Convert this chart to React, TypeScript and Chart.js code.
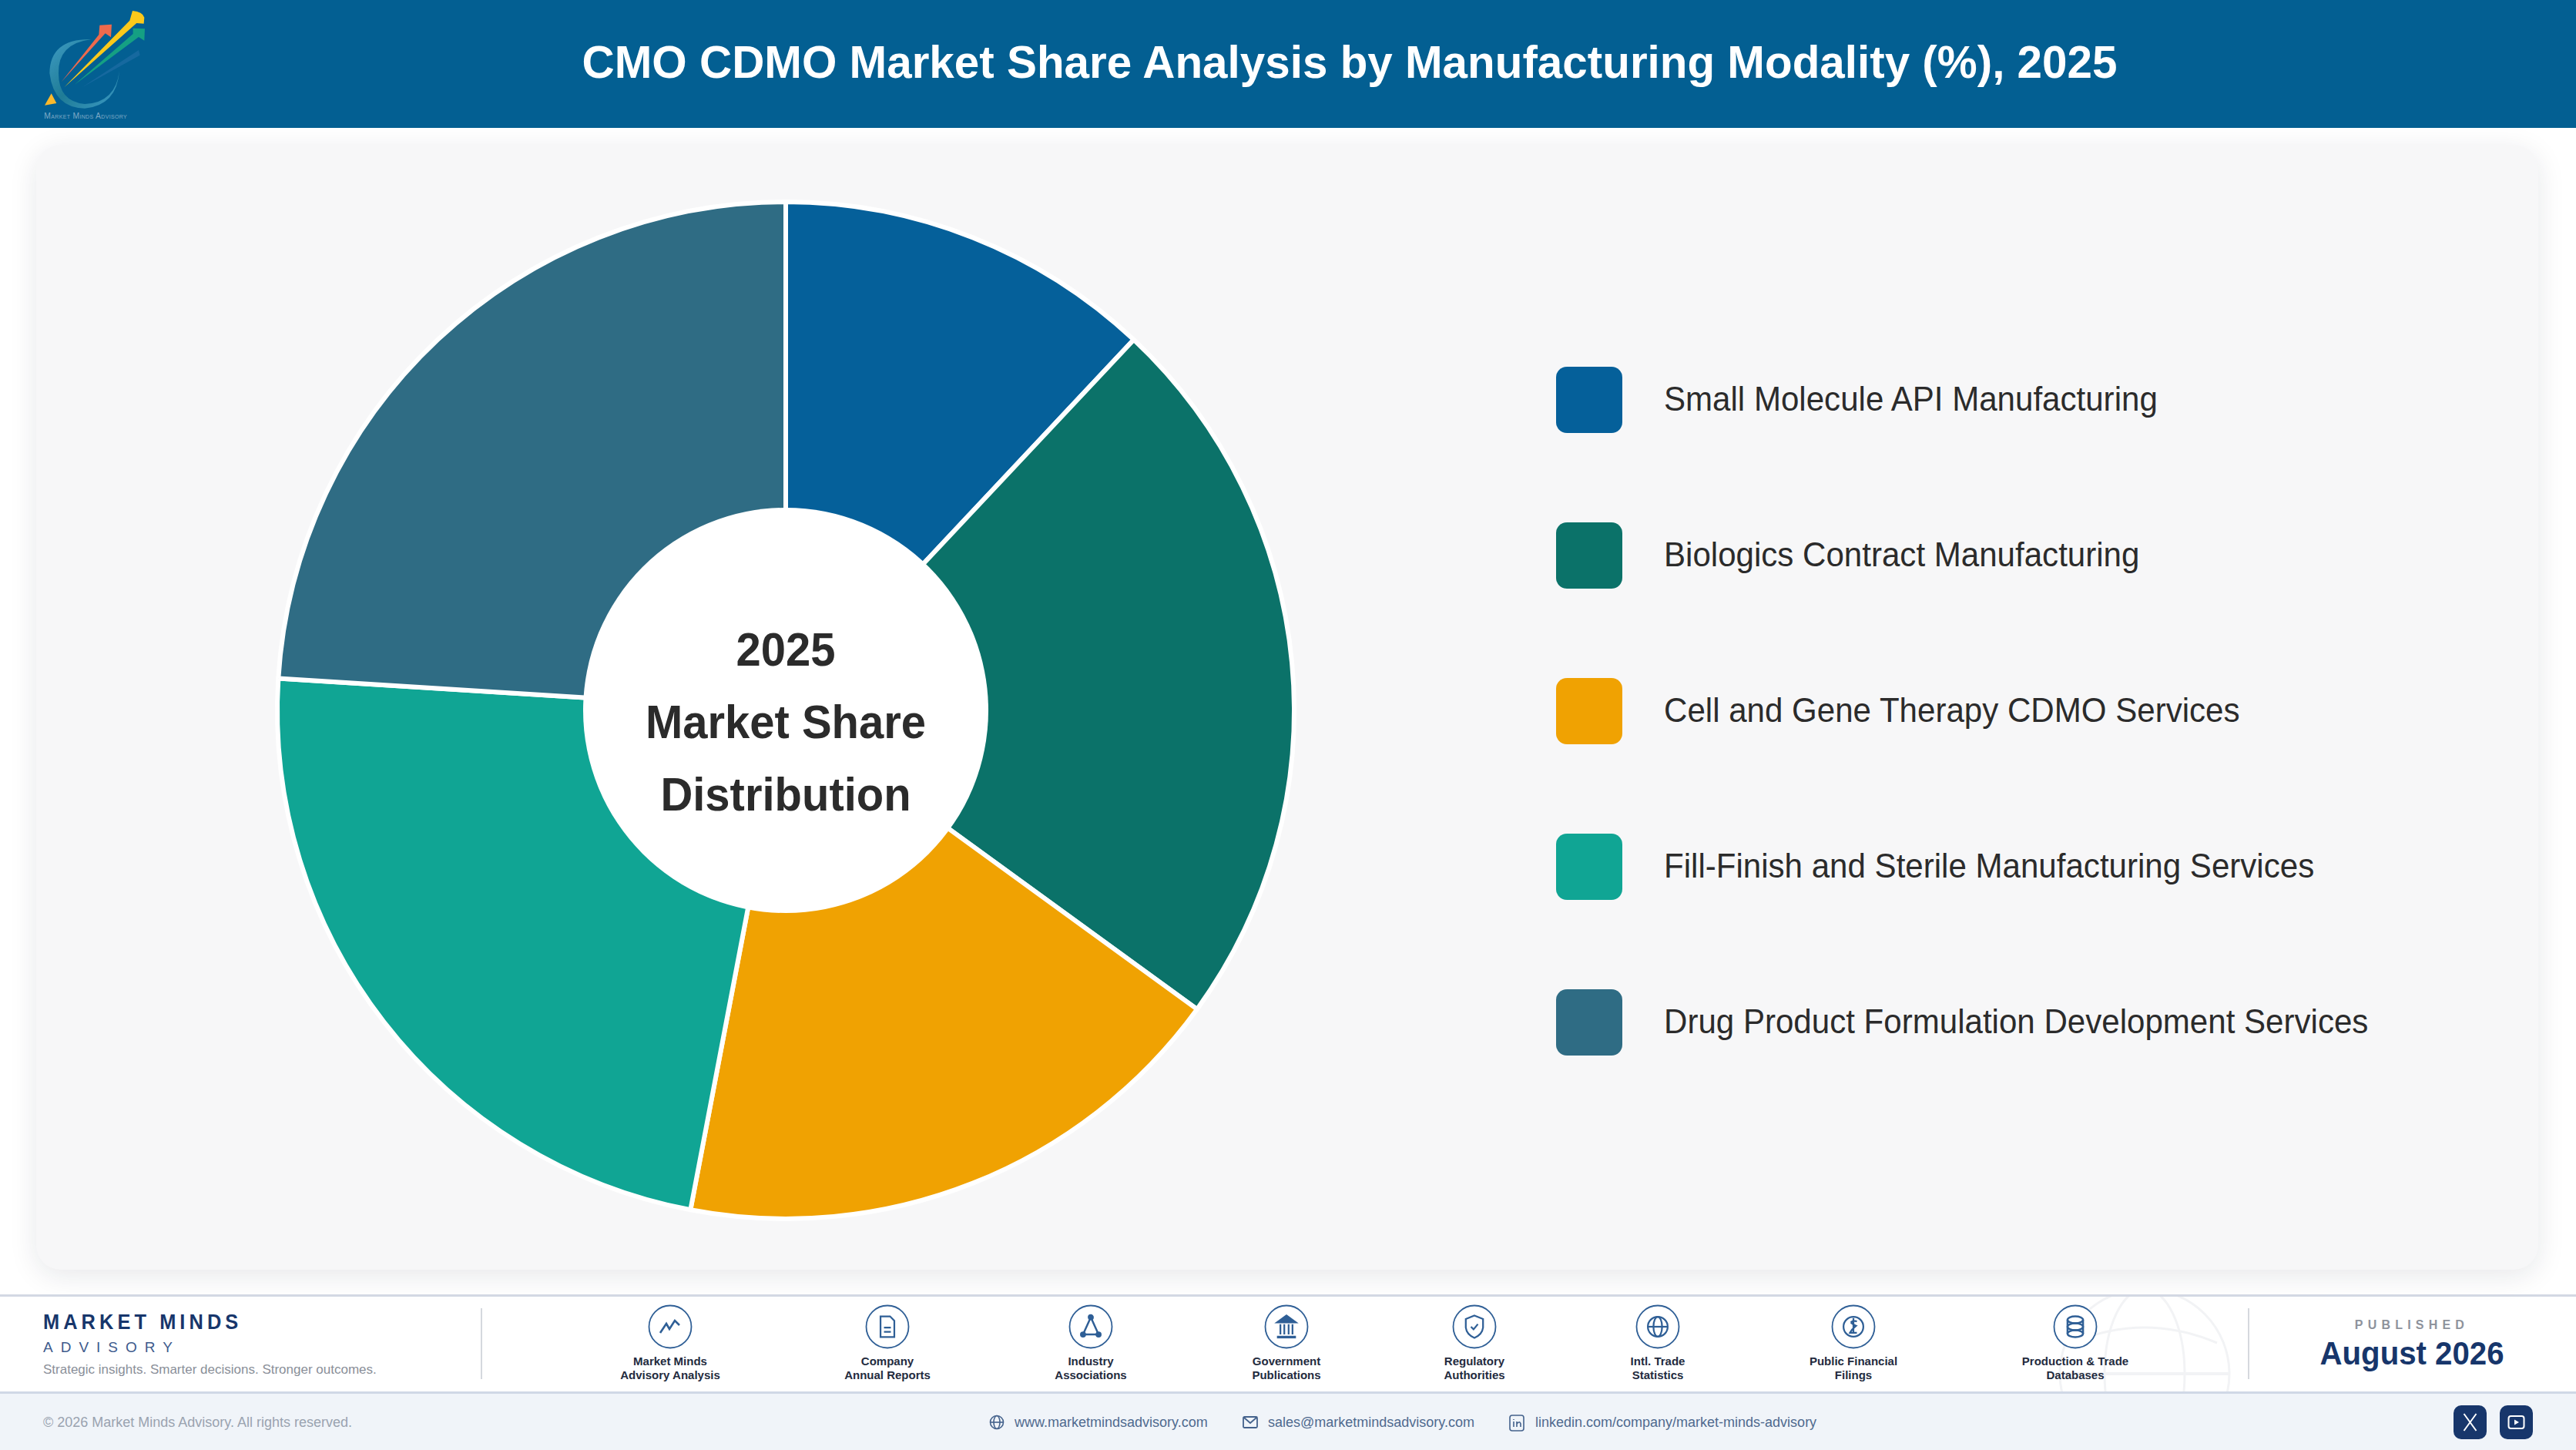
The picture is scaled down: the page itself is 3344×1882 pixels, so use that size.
import { useEffect, useRef } from 'react';
import Chart from 'chart.js/auto';
import type { CSSProperties, ReactNode } from 'react';

const title = 'CMO CDMO Market Share Analysis by Manufacturing Modality (%), 2025';
const categories = [
  'Small Molecule API Manufacturing',
  'Biologics Contract Manufacturing',
  'Cell and Gene Therapy CDMO Services',
  'Fill-Finish and Sterile Manufacturing Services',
  'Drug Product Formulation Development Services',
];
const shares = [12, 23, 18, 23, 24];
const colors = ['#05609A', '#0B7269', '#F0A202', '#10A594', '#2F6C84'];
const centerLines = ['2025', 'Market Share', 'Distribution'];

const sourceLabels = [
  ['Market Minds', 'Advisory Analysis'],
  ['Company', 'Annual Reports'],
  ['Industry', 'Associations'],
  ['Government', 'Publications'],
  ['Regulatory', 'Authorities'],
  ['Intl. Trade', 'Statistics'],
  ['Public Financial', 'Filings'],
  ['Production & Trade', 'Databases'],
];
const sourceX = [870, 1152, 1416, 1670, 1914, 2152, 2406, 2694];

const FONT = '"Liberation Sans", Arial, sans-serif';
const NAVY = '#17366B';
const ICON = '#2F5F96';

const abs = (left: number, top: number, extra: CSSProperties = {}): CSSProperties => ({
  position: 'absolute',
  left,
  top,
  ...extra,
});

// one-line text centred vertically on y; sx squeezes it to the reference's narrower glyphs
function Text({ x, y, size, color, bold, spacing, center, sx = 1, children }: {
  x: number; y: number; size: number; color: string; bold?: boolean; spacing?: number; center?: boolean; sx?: number; children: ReactNode;
}) {
  return (
    <div
      style={abs(x, y - size, {
        height: size * 2,
        lineHeight: `${size * 2}px`,
        fontSize: size,
        fontWeight: bold ? 700 : 400,
        color,
        letterSpacing: spacing,
        whiteSpace: 'nowrap',
        transformOrigin: center ? '0 50%' : 'left center',
        transform: center ? `scaleX(${sx}) translateX(-50%)` : `scaleX(${sx})`,
      })}
    >
      {children}
    </div>
  );
}

function Logo() {
  return (
    <svg style={abs(0, 0)} width={400} height={166} viewBox="0 0 1200 498">
      <defs>
        <linearGradient id="ring" x1="0" y1="0" x2="1" y2="1">
          <stop offset="0" stopColor="#3F9CC4" />
          <stop offset="0.5" stopColor="#1F7C96" />
          <stop offset="1" stopColor="#3C9AC6" />
        </linearGradient>
      </defs>
      <path d="M355 153 Q195 150 193 285 Q210 420 330 422 Q455 410 465 275 Q450 400 330 405 Q228 395 228 285 Q225 170 355 153 Z" fill="url(#ring)" />
      <path d="M320 340 L540 195 L545 215 Z" fill="#16699F" />
      <path d="M238 320 L385 135 L388 98 L435 95 L432 145 L410 130 Z" fill="#EE6A4D" />
      <path d="M290 330 L518 132 L518 110 L564 112 L562 158 L540 144 Z" fill="#15A083" />
      <path d="M250 340 L505 80 L516 42 Q555 45 562 68 L560 92 L532 90 Z" fill="#FBC91A" />
      <path d="M174 410 L200 364 L220 402 Z" fill="#FBB92C" />
      <text x="172" y="462" fontSize="31" letterSpacing="1" fill="#7FAAC6" style={{ fontVariant: 'small-caps' }}>Market Minds Advisory</text>
    </svg>
  );
}

const glyphs: ReactNode[] = [
  <path d="M-13 8 L-5 -4 L-1 3 L6 -8 L12 -2" fill="none" strokeWidth="2.6" />,
  <g fill="none" strokeWidth="2" transform="scale(1.12)"><path d="M-8 -12 H3 L8 -7 V12 H-8 Z M-4 1 H4 M-4 6 H4" /></g>,
  <g strokeWidth="2.2" fill={ICON} transform="scale(1.12)"><path d="M0 -11 L-9 9 H9 Z" fill="none" /><circle cx="0" cy="-11" r="2.4" /><circle cx="-9" cy="9" r="2.4" /><circle cx="9" cy="9" r="2.4" /></g>,
  <g strokeWidth="2" fill={ICON} transform="scale(1.12)"><path d="M-11 -5 L0 -13 L11 -5 Z" /><path d="M-7 -3 V9 M-2.5 -3 V9 M2.5 -3 V9 M7 -3 V9" fill="none" /><path d="M-11 12 H11" strokeWidth="3" /></g>,
  <g fill="none" strokeWidth="2" transform="scale(1.12)"><path d="M0 -13 L10 -9 V1 Q9 9 0 13 Q-9 9 -10 1 V-9 Z" /><path d="M-4 0 L-1 3 L4 -3" /></g>,
  <g fill="none" strokeWidth="2" transform="scale(1.12)"><circle r="11.5" /><ellipse rx="5" ry="11.5" /><path d="M-11.5 0 H11.5" /></g>,
  <g fill="none" strokeWidth="2" transform="scale(1.12)"><circle r="11.5" /><path d="M4 -6 Q0 -8 -3 -5 M-3 -5 Q0 -2 3 -1 Q-2 3 -4 7 H4 M0 -10 V7" /></g>,
  <g fill="none" strokeWidth="2.2" transform="scale(1.12)"><ellipse cy="-8" rx="9" ry="4" /><ellipse rx="9" ry="4" /><ellipse cy="8" rx="9" ry="4" /><path d="M-9 -8 V8 M9 -8 V8" /></g>,
];

function SourceIcon({ x, index }: { x: number; index: number }) {
  return (
    <svg style={abs(x - 30, 1692)} width={60} height={60} viewBox="-30 -30 60 60" stroke={ICON}>
      <circle r="27.5" fill="#fff" strokeWidth="1.8" />
      {glyphs[index]}
    </svg>
  );
}

function PieChart() {
  const canvasRef = useRef<HTMLCanvasElement>(null);

  useEffect(() => {
    const canvas = canvasRef.current;
    if (!canvas) return;
    const chart = new Chart(canvas, {
      type: 'doughnut',
      data: {
        labels: categories,
        datasets: [{ data: shares, backgroundColor: colors, borderColor: '#FFFFFF', borderWidth: 6 }],
      },
      options: {
        animation: false,
        responsive: false,
        devicePixelRatio: 1,
        radius: 660,
        cutout: 255,
        layout: { padding: 0 },
        plugins: { legend: { display: false }, tooltip: { enabled: false } },
      },
    });
    return () => chart.destroy();
  }, []);

  return <canvas ref={canvasRef} width={1400} height={1400} style={abs(320, 222, { width: 1400, height: 1400 })} />;
}

export default function App() {
  useEffect(() => {
    document.body.style.margin = '0';
    document.body.style.background = '#fff';
  }, []);

  return (
    <div style={{ position: 'relative', width: 3344, height: 1882, overflow: 'hidden', fontFamily: FONT, background: '#fff' }}>
      <div style={abs(0, 0, { width: 3344, height: 166, background: '#035F92' })} />
      <Logo />
      <Text x={1752} y={81} size={60} color="#fff" bold center sx={0.973}>{title}</Text>

      <div style={abs(47, 188, { width: 3248, height: 1460, borderRadius: 32, background: '#F7F7F8', boxShadow: '0 8px 36px rgba(20,30,50,0.10)' })} />
      <PieChart />
      <div style={abs(757, 659, { width: 526, height: 526, borderRadius: '50%', background: '#fff' })} />
      {centerLines.map((line, i) => (
        <Text key={line} x={1020} y={843 + i * 94} size={62} color="#2B2B2B" bold center sx={0.935}>{line}</Text>
      ))}

      {categories.map((name, i) => (
        <div key={name}>
          <div style={abs(2020, 476 + i * 202, { width: 86, height: 86, borderRadius: 14, background: colors[i] })} />
          <Text x={2160} y={518 + i * 202} size={45} color="#2B2B2B" sx={0.935}>{name}</Text>
        </div>
      ))}

      {/* footer */}
      <div style={abs(0, 1680, { width: 3344, height: 3, background: '#D3D8E3' })} />
      <svg style={abs(2640, 1683)} width={290} height={123} viewBox="0 0 290 123" fill="none" stroke="#F2F3F5" strokeWidth="3">
        <circle cx="144" cy="100" r="110" />
        <ellipse cx="144" cy="100" rx="52" ry="110" />
        <path d="M34 100 H254" strokeWidth="4" />
        <path d="M50 60 Q144 20 238 60" />
      </svg>
      <Text x={56} y={1716} size={27} color={NAVY} bold spacing={5.4} sx={0.94}>MARKET MINDS</Text>
      <Text x={56} y={1749} size={19} color="#3D5A8C" spacing={10}>ADVISORY</Text>
      <Text x={56} y={1778} size={17} color="#8A8F99">Strategic insights. Smarter decisions. Stronger outcomes.</Text>
      <div style={abs(624, 1698, { width: 2, height: 92, background: '#D5D8DE' })} />
      {sourceLabels.map((lines, i) => (
        <div key={lines[0]}>
          <SourceIcon x={sourceX[i]} index={i} />
          <Text x={sourceX[i]} y={1767} size={15} color="#232B3E" bold center>{lines[0]}</Text>
          <Text x={sourceX[i]} y={1785} size={15} color="#232B3E" bold center>{lines[1]}</Text>
        </div>
      ))}
      <div style={abs(2918, 1698, { width: 2, height: 92, background: '#D5D8DE' })} />
      <Text x={3131} y={1720} size={16} color="#8E939C" bold spacing={6.2} center>PUBLISHED</Text>
      <Text x={3131} y={1757} size={42} color={NAVY} bold center sx={0.957}>August 2026</Text>

      <div style={abs(0, 1806, { width: 3344, height: 76, background: '#F0F4F9', borderTop: '3px solid #D0D8E6', boxSizing: 'border-box' })} />
      <Text x={56} y={1846} size={18} color="#9AA3B0">© 2026 Market Minds Advisory. All rights reserved.</Text>
      <svg style={abs(1284, 1836)} width={20} height={20} viewBox="-10 -10 20 20" fill="none" stroke="#44628C" strokeWidth="1.6">
        <circle r="8.5" /><ellipse rx="4" ry="8.5" /><path d="M-8.5 0 H8.5" />
      </svg>
      <Text x={1317} y={1846} size={18} color="#4F6A8F">www.marketmindsadvisory.com</Text>
      <svg style={abs(1613, 1836)} width={20} height={20} viewBox="0 0 20 20" fill="none" stroke="#44628C" strokeWidth="1.8">
        <rect x="1" y="3" width="18" height="14" rx="1.5" /><path d="M2 4 L10 11 L18 4" />
      </svg>
      <Text x={1646} y={1846} size={18} color="#4F6A8F">sales@marketmindsadvisory.com</Text>
      <svg style={abs(1959, 1836)} width={20} height={22} viewBox="0 0 20 22" fill="none" stroke="#44628C" strokeWidth="1.6">
        <rect x="1" y="1" width="18" height="20" rx="3" /><path d="M6 9 V16 M6 6 V7 M10 16 V9 M10 12 Q14 7.5 15 12 V16" />
      </svg>
      <Text x={1993} y={1846} size={18} color="#4F6A8F">linkedin.com/company/market-minds-advisory</Text>
      <div style={abs(3185, 1824, { width: 43, height: 44, borderRadius: 10, background: NAVY })} />
      <svg style={abs(3185, 1824)} width={43} height={44} viewBox="0 0 42 44" fill="none" stroke="#fff" strokeWidth="2">
        <path d="M13 11 L29 33 M29 11 L13 33" />
      </svg>
      <div style={abs(3245, 1824, { width: 43, height: 44, borderRadius: 10, background: NAVY })} />
      <svg style={abs(3245, 1824)} width={43} height={44} viewBox="0 0 42 44" fill="none" stroke="#fff" strokeWidth="2">
        <rect x="11" y="14" width="20" height="16" rx="3" /><path d="M18.5 18.5 L24.5 22 L18.5 25.5 Z" fill="#fff" stroke="none" />
      </svg>
    </div>
  );
}
